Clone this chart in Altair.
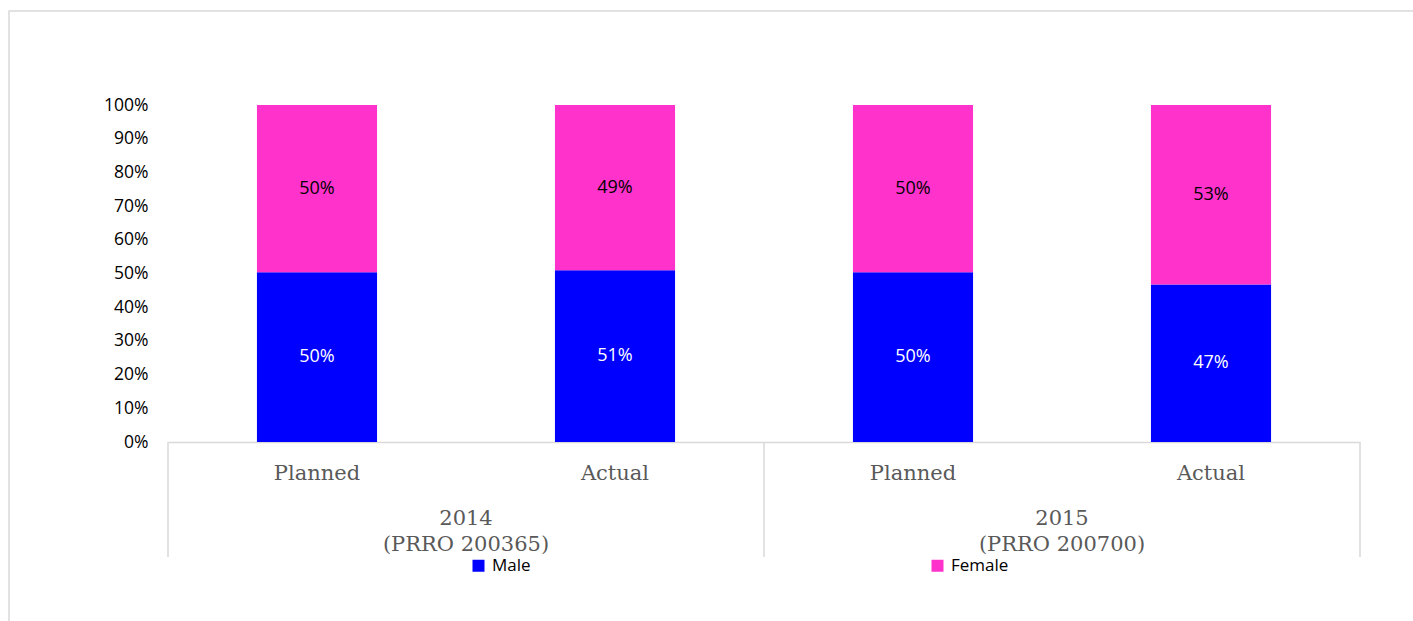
import altair as alt
import pandas as pd

# ---- data ----
bars = ["2014|Planned", "2014|Actual", "2015|Planned", "2015|Actual"]
male = [0.504, 0.51, 0.504, 0.467]
female = [0.496, 0.49, 0.496, 0.533]
series = ["Male", "Female"]
colors = ["#0000FF", "#FF33CC"]
group_labels = ["2014\n(PRRO 200365)", "2015\n(PRRO 200700)"]
group_centers = [1, 3]
separators = [0, 2, 4]
y_ticks = [0, 0.1, 0.2, 0.3, 0.4, 0.5, 0.6, 0.7, 0.8, 0.9, 1.0]

rows = []
for b, m, f in zip(bars, male, female):
    rows.append({"bar": b, "sex": "Male", "value": m, "idx": 0})
    rows.append({"bar": b, "sex": "Female", "value": f, "idx": 1})
df = pd.DataFrame(rows)
gdf = pd.DataFrame({"pos": group_centers, "label": group_labels})
sdf = pd.DataFrame({"pos": separators})

W, H = 1192, 337
PL, PT = 168, 105

xaxis = alt.Axis(title=None, labelExpr="split(datum.label,'|')[1]", labelAngle=0,
                 ticks=False, domainColor="#D9D9D9", domainWidth=1.5,
                 labelFont="DejaVu Serif", labelFontSize=21, labelColor="#595959",
                 labelPadding=20)
xscale = alt.Scale(paddingInner=0.597, paddingOuter=0.2985)
yaxis = alt.Axis(title=None, format="%", values=y_ticks, grid=False, domain=False,
                 ticks=False, labelPadding=20, labelFont="Open Sans",
                 labelFontSize=17.5, labelColor="black", labelOverlap=False)
yscale = alt.Scale(domain=[0, 1], nice=False)

base = alt.Chart(df)
bar_layer = base.mark_bar().encode(
    x=alt.X("bar:N", sort=bars, scale=xscale, axis=xaxis),
    y=alt.Y("value:Q", stack="zero", scale=yscale, axis=yaxis),
    color=alt.Color("sex:N", scale=alt.Scale(domain=series, range=colors),
                    legend=alt.Legend(title=None, orient="none", legendX=302, legendY=452,
                                      direction="horizontal", symbolType="square",
                                      symbolSize=144, symbolStrokeWidth=0,
                                      labelFont="Open Sans", labelFontSize=17,
                                      labelColor="black", columnPadding=398,
                                      labelOffset=5, padding=0)),
    order=alt.Order("idx:Q"),
)

lab = base.transform_stack(
    stack="value", groupby=["bar"], as_=["v0", "v1"], sort=[alt.SortField("idx")]
).transform_calculate(mid="(datum.v0 + datum.v1) / 2")

lab_m = lab.transform_filter("datum.sex == 'Male'").mark_text(
    font="Open Sans", fontSize=18, color="white"
).encode(x=alt.X("bar:N", sort=bars, scale=xscale, axis=xaxis),
         y=alt.Y("mid:Q", scale=yscale, axis=yaxis),
         text=alt.Text("value:Q", format=".0%"))
lab_f = lab.transform_filter("datum.sex == 'Female'").mark_text(
    font="Open Sans", fontSize=18, color="black"
).encode(x=alt.X("bar:N", sort=bars, scale=xscale, axis=xaxis),
         y=alt.Y("mid:Q", scale=yscale, axis=yaxis),
         text=alt.Text("value:Q", format=".0%"))

inner = alt.layer(bar_layer, lab_m, lab_f)

groups = alt.Chart(gdf).mark_text(
    lineBreak="\n", font="DejaVu Serif", fontSize=21, color="#595959", lineHeight=26
).encode(
    x=alt.X("pos:Q", scale=alt.Scale(domain=[0, 4], nice=False), axis=None),
    y=alt.value(414),
    text="label:N",
)

rules = alt.Chart(sdf).mark_rule(color="#D9D9D9", strokeWidth=1.5).encode(
    x=alt.X("pos:Q", scale=alt.Scale(domain=[0, 4], nice=False), axis=None),
    y=alt.value(H),
    y2=alt.value(452),
)

frame = alt.Chart(pd.DataFrame({"k": [0]})).mark_rect(
    fill="transparent", stroke="#D9D9D9", strokeWidth=1.5
).encode(
    x=alt.value(9 - PL), x2=alt.value(1413 - PL + 20),
    y=alt.value(11 - PT), y2=alt.value(621 - PT + 20),
)

chart = alt.layer(frame, inner, rules, groups).resolve_scale(x="independent").properties(
    width=W, height=H,
    autosize=alt.AutoSizeParams(type="none"),
    padding={"left": PL, "top": PT, "right": 1413 - PL - W, "bottom": 621 - PT - H},
    background="white",
).configure_view(stroke=None)

chart.save("out.html", embed_options={"renderer": "svg", "actions": False})
